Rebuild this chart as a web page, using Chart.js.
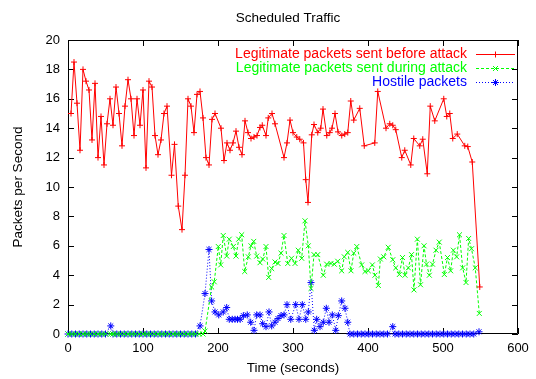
<!DOCTYPE html>
<html>
<head>
<meta charset="utf-8">
<title>Scheduled Traffic</title>
<script src="https://cdn.jsdelivr.net/npm/chart.js@4/dist/chart.umd.min.js"></script>
<style>
    html, body { margin: 0; padding: 0; background: #fff; }
</style>
</head>
<body>
<canvas id="chart" width="536" height="379"></canvas>
<script>
"use strict";

var beforeTimes = [4, 8, 12, 16, 20, 24, 28, 32, 36, 40, 44, 48, 52, 56, 60, 64, 68, 72, 76, 80,
    84, 88, 92, 96, 100, 104, 108, 112, 116, 120, 124, 128, 132, 138, 142, 147, 152, 156, 160, 164,
    168, 172, 176, 180, 184, 188, 192, 196, 204, 208, 212, 216, 220, 224, 228, 232, 236, 240, 244, 248,
    252, 256, 259, 264, 267, 272, 276, 288, 292, 296, 300, 305, 309, 314, 317, 320, 325, 328, 333, 337,
    340, 345, 349, 352, 356, 360, 365, 369, 373, 377, 381, 389, 395, 409, 413, 424, 429, 433, 437, 445,
    449, 457, 461, 469, 473, 479, 483, 489, 501, 505, 509, 513, 519, 529, 533, 539, 549];
var beforeValues = [15.0, 18.5, 15.7, 12.5, 18.0, 17.2, 16.6, 13.2, 17.05, 12.0, 14.8, 11.5, 14.3, 16.0, 14.2, 16.8, 15.0, 12.8, 15.5, 17.3,
    16.0, 13.5, 16.0, 14.2, 16.6, 11.3, 17.2, 16.8, 13.5, 12.2, 13.2, 15.0, 15.5, 10.8, 12.9, 8.7, 7.1, 10.8, 16.0, 15.5,
    13.7, 16.3, 16.5, 14.7, 12.0, 11.5, 14.6, 15.0, 14.0, 11.8, 13.0, 12.5, 13.0, 13.8, 12.7, 12.2, 14.5, 13.7, 13.3, 13.4,
    13.5, 14.05, 14.2, 13.5, 14.7, 15.0, 14.3, 12.0, 13.0, 14.55, 13.7, 13.4, 13.25, 13.0, 10.5, 8.95, 13.55, 14.25, 13.7, 14.0,
    15.3, 13.5, 13.7, 14.0, 15.0, 13.75, 13.5, 13.6, 13.7, 15.85, 14.55, 15.35, 12.8, 13.0, 16.5, 14.0, 14.3, 14.2, 13.9, 12.0,
    12.5, 11.5, 13.3, 12.8, 13.25, 10.9, 15.5, 14.5, 16.0, 14.8, 15.0, 13.3, 13.6, 12.8, 12.75, 11.7, 3.2];

var duringTimes = [0, 5, 10, 15, 20, 25, 30, 35, 40, 45, 50, 57, 60, 65, 70, 75, 80, 85, 90, 95,
    100, 105, 110, 115, 120, 125, 130, 135, 140, 145, 150, 155, 160, 165, 170, 175, 180, 182.7, 191.5, 195,
    200.4, 203.6, 207, 211.6, 215, 220.4, 224, 227.6, 231.6, 235.6, 240.4, 244, 247.6, 251.6, 256, 259.6, 264, 267.6, 271.6, 276,
    280, 284, 288, 293, 298, 302.7, 307, 311.6, 316, 320.4, 324, 328, 333, 340.4, 344.9, 350.7, 355, 359.6, 364.9, 368.4,
    373, 377.3, 381, 385, 391.6, 396, 400.4, 405.8, 409.3, 413.8, 416.5, 421, 427, 433, 437, 441.8, 446, 449.3, 453.8, 458,
    461.3, 465.8, 470, 474.7, 478, 481.8, 486, 490.7, 495, 501.8, 506, 510.2, 513.8, 518.2, 522, 526.2, 530.7, 534.2, 538, 543,
    548.4];
var duringValues = [0, 0, 0, 0, 0, 0, 0, 0, 0, 0, 0, 0, 0, 0, 0, 0, 0, 0, 0, 0,
    0, 0, 0, 0, 0, 0, 0, 0, 0, 0, 0, 0, 0, 0, 0, 0, 0, 0.2, 3.2, 3.55,
    5.95, 4.7, 6.7, 5.3, 6.45, 5.95, 5.3, 6.45, 6.75, 4.25, 5.25, 6.0, 6.3, 5.3, 4.85, 5.1, 5.95, 3.85, 4.45, 4.9,
    4.8, 5.5, 6.7, 4.8, 5.15, 4.8, 5.7, 5.15, 7.7, 6.0, 3.1, 5.4, 5.4, 4.0, 4.75, 4.8, 4.75, 4.95, 4.3, 5.25,
    5.55, 4.3, 5.5, 5.95, 4.7, 4.25, 4.3, 4.7, 4.0, 3.3, 5.1, 5.25, 5.9, 5.05, 4.5, 4.05, 5.2, 4.0, 4.5, 5.4,
    3.0, 6.45, 3.35, 6.0, 4.75, 4.0, 4.75, 5.7, 6.25, 4.05, 5.2, 4.3, 5.7, 5.25, 6.75, 4.5, 3.5, 6.5, 5.8, 4.5,
    1.4];

var hostileTimes = [0, 5, 10, 15, 20, 25, 30, 35, 40, 45, 50, 57, 60, 65, 70, 75, 80, 85, 90, 95,
    100, 105, 110, 115, 120, 125, 130, 135, 140, 145, 150, 155, 160, 165, 170, 176, 182.7, 188, 191.5, 196,
    201, 207, 211.6, 215, 219, 222.7, 226, 229.6, 233.8, 239, 243.6, 248, 251.6, 256, 259.6, 264, 268, 271.6, 276, 280,
    284, 288, 292, 297, 303.6, 308, 312.4, 317, 320.4, 324, 328.4, 331.6, 336, 340.4, 344.4, 348, 352.4, 357, 360.4, 364.9,
    369.3, 373, 376, 381, 386, 391, 396, 401, 406, 411, 416, 421, 426, 433, 436, 441, 446, 451, 456, 461,
    466, 471, 476, 481, 486, 491, 496, 501, 506, 511, 516, 521, 526, 531, 536, 541, 548];
var hostileValues = [0, 0, 0, 0, 0, 0, 0, 0, 0, 0, 0, 0.55, 0, 0, 0, 0, 0, 0, 0, 0,
    0, 0, 0, 0, 0, 0, 0, 0, 0, 0, 0, 0, 0, 0, 0, 0.55, 2.75, 5.75, 2.25, 1.5,
    1.3, 1.5, 1.8, 1.0, 1.0, 1.0, 1.0, 1.0, 1.25, 1.3, 0.8, 0.25, 1.3, 1.3, 0.7, 0.5, 1.5, 0.55, 0.8, 1.05,
    1.25, 1.3, 2.0, 1.0, 2.0, 1.0, 2.0, 1.0, 1.5, 3.5, 0.25, 1.0, 0.5, 0.8, 1.75, 0.8, 1.3, 0.25, 1.25, 2.25,
    1.75, 0.8, 0, 0, 0, 0, 0, 0, 0, 0, 0, 0, 0, 0.5, 0, 0, 0, 0, 0, 0,
    0, 0, 0, 0, 0, 0, 0, 0, 0, 0, 0, 0, 0, 0, 0, 0, 0.15];

var seriesNames = [
    "Legitimate packets sent before attack",
    "Legitimate packets sent during attack",
    "Hostile packets"
];
var xTickValues = [0, 100, 200, 300, 400, 500, 600];
var yTickValues = [0, 2, 4, 6, 8, 10, 12, 14, 16, 18, 20];

var fontFamily = "'Liberation Sans', Arial, Helvetica, sans-serif";

function toPoints(times, values) {
    return times.map(function (t, i) {
        return { x: t, y: values[i] };
    });
}

/**
* Draws the gnuplot style frame (inward ticks on all four sides),
* the title and the key in the top right corner.
*/
var framePlugin = {
    id: "frame",
    beforeDatasetsDraw: function (chart) {
        var ctx = chart.ctx;
        var area = chart.chartArea;
        var xScale = chart.scales.x;
        var yScale = chart.scales.y;
        var len = 6;

        ctx.save();
        ctx.strokeStyle = "#000";
        ctx.lineWidth = 1;
        ctx.beginPath();
        ctx.rect(area.left + 0.5, area.top + 0.5, area.right - area.left - 1, area.bottom - area.top - 1);

        xTickValues.forEach(function (v) {
            var px = Math.round(xScale.getPixelForValue(v)) + 0.5;
            ctx.moveTo(px, area.bottom);
            ctx.lineTo(px, area.bottom - len);
            ctx.moveTo(px, area.top);
            ctx.lineTo(px, area.top + len);
        });
        yTickValues.forEach(function (v) {
            var py = Math.round(yScale.getPixelForValue(v)) + 0.5;
            ctx.moveTo(area.left, py);
            ctx.lineTo(area.left + len, py);
            ctx.moveTo(area.right, py);
            ctx.lineTo(area.right - len, py);
        });
        ctx.stroke();

        ctx.fillStyle = "#000";
        ctx.font = "13.5px " + fontFamily;
        ctx.textAlign = "center";
        ctx.textBaseline = "middle";
        ctx.fillText("Scheduled Traffic", 288, 18);
        ctx.restore();
    },

    afterDatasetsDraw: function (chart) {
        var ctx = chart.ctx;
        var textRight = 467;
        var sampleLeft = 476;
        var sampleRight = 515;
        var rowTop = 54;
        var rowGap = 14;

        ctx.save();
        ctx.font = "14px " + fontFamily;
        ctx.textAlign = "right";
        ctx.textBaseline = "middle";

        chart.data.datasets.forEach(function (ds, i) {
            var y = rowTop + i * rowGap;
            ctx.fillStyle = ds.borderColor;
            ctx.fillText(ds.label, textRight, y);

            ctx.strokeStyle = ds.borderColor;
            ctx.lineWidth = 1;
            ctx.setLineDash(ds.borderDash || []);
            ctx.beginPath();
            ctx.moveTo(sampleLeft, y + 0.5);
            ctx.lineTo(sampleRight, y + 0.5);
            ctx.stroke();
            ctx.setLineDash([]);

            Chart.helpers.drawPoint(ctx, {
                pointStyle: ds.pointStyle,
                radius: ds.pointRadius,
                borderWidth: 1,
                rotation: 0
            }, (sampleLeft + sampleRight) / 2, y + 0.5);
        });
        ctx.restore();
    }
};

var config = {
    type: "scatter",
    data: {
        datasets: [{
            label: seriesNames[0],
            data: toPoints(beforeTimes, beforeValues),
            showLine: true,
            borderColor: "#ff0000",
            backgroundColor: "#ff0000",
            borderWidth: 1,
            pointStyle: "cross",
            pointRadius: 3,
            pointBorderWidth: 1,
            clip: false
        }, {
            label: seriesNames[1],
            data: toPoints(duringTimes, duringValues),
            showLine: true,
            borderColor: "#00ff00",
            backgroundColor: "#00ff00",
            borderWidth: 1,
            borderDash: [3, 2],
            pointStyle: "crossRot",
            pointRadius: 3.5,
            pointBorderWidth: 1,
            clip: false
        }, {
            label: seriesNames[2],
            data: toPoints(hostileTimes, hostileValues),
            showLine: true,
            borderColor: "#0000ff",
            backgroundColor: "#0000ff",
            borderWidth: 1,
            borderDash: [1, 2],
            pointStyle: "star",
            pointRadius: 3.5,
            pointBorderWidth: 1,
            clip: false
        }]
    },
    plugins: [framePlugin],
    options: {
        responsive: false,
        animation: false,
        devicePixelRatio: 1,
        layout: {
            padding: { top: 40, right: 18, left: 0, bottom: 0 }
        },
        plugins: {
            legend: { display: false },
            tooltip: { enabled: false }
        },
        scales: {
            x: {
                type: "linear",
                min: 0,
                max: 600,
                afterFit: function (scale) { scale.height = 45; },
                afterBuildTicks: function (scale) {
                    scale.ticks = xTickValues.map(function (v) { return { value: v }; });
                },
                grid: { display: false, drawTicks: false },
                border: { display: false },
                ticks: {
                    color: "#000",
                    padding: 7,
                    maxRotation: 0,
                    font: { family: fontFamily, size: 13 }
                },
                title: {
                    display: true,
                    text: "Time (seconds)",
                    color: "#000",
                    padding: { top: 0, bottom: 3 },
                    font: { family: fontFamily, size: 13.5 }
                }
            },
            y: {
                type: "linear",
                min: 0,
                max: 20,
                afterFit: function (scale) { scale.width = 68; },
                afterBuildTicks: function (scale) {
                    scale.ticks = yTickValues.map(function (v) { return { value: v }; });
                },
                grid: { display: false, drawTicks: false },
                border: { display: false },
                ticks: {
                    color: "#000",
                    padding: 8,
                    font: { family: fontFamily, size: 13 }
                },
                title: {
                    display: true,
                    text: "Packets per Second",
                    color: "#000",
                    padding: { top: 10, bottom: 0 },
                    font: { family: fontFamily, size: 13.5 }
                }
            }
        }
    }
};

var chart = new Chart(document.getElementById("chart"), config);
</script>
</body>
</html>
